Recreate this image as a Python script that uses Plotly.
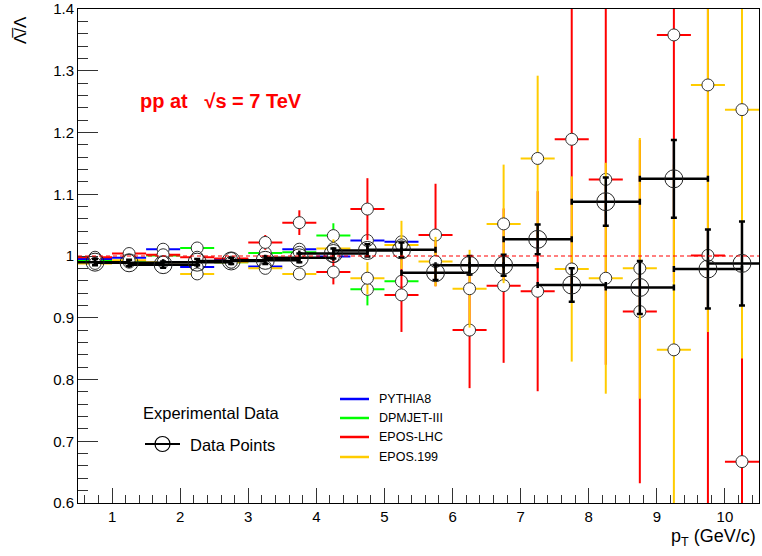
import plotly.graph_objects as go

# ---------------- data ----------------
pt = [0.75, 1.25, 1.75, 2.25, 2.75, 3.25, 3.75, 4.25, 4.75, 5.25,
      5.75, 6.25, 6.75, 7.25, 7.75, 8.25, 8.75, 9.25, 9.75, 10.25]
pt_low = pt[:10]

data_y = [0.990, 0.989, 0.986, 0.990, 0.992, 0.993, 0.997, 1.004, 1.009, 1.010,
          0.973, 0.985, 0.985, 1.027, 0.953, 1.088, 0.949, 1.125, 0.979, 0.988]
data_err = [0.005, 0.005, 0.005, 0.005, 0.005, 0.006, 0.007, 0.008, 0.010, 0.012,
            0.012, 0.015, 0.017, 0.024, 0.027, 0.039, 0.043, 0.063, 0.064, 0.068]
data_xerr = [0.5] * 20

pythia_y = [0.995, 0.997, 1.011, 0.982, 0.995, 0.983, 1.011, 0.999, 1.025, 1.023]
pythia_err = [0.003, 0.003, 0.004, 0.004, 0.004, 0.005, 0.005, 0.006, 0.006, 0.007]

dpmjet_y = [0.992, 0.990, 1.001, 1.013, 0.990, 1.005, 1.006, 1.033, 0.946, 0.959]
dpmjet_err = [0.003, 0.003, 0.004, 0.005, 0.005, 0.006, 0.008, 0.020, 0.026, 0.012]

eposlhc_y = [0.998, 1.004, 1.002, 0.998, 0.996, 1.022, 1.054, 0.974, 1.076, 0.937,
             1.034, 0.880, 0.952, 0.943, 1.189, 1.124, 0.910, 1.358, 1.001, 0.667]
eposlhc_err = [0.004, 0.005, 0.005, 0.006, 0.008, 0.012, 0.020, 0.020, 0.050, 0.060,
               0.083, 0.094, 0.125, 0.162, 0.250, 0.300, 0.278, 0.400, 0.450, 0.200]

epos199_y = [0.988, 0.993, 0.990, 0.971, 0.990, 0.980, 0.971, 1.012, 0.964, 1.018,
             0.991, 0.947, 1.052, 1.158, 0.979, 0.964, 0.980, 0.848, 1.277, 1.237]
epos199_err = [0.005, 0.005, 0.005, 0.006, 0.006, 0.008, 0.010, 0.015, 0.026, 0.039,
               0.040, 0.063, 0.096, 0.134, 0.150, 0.187, 0.211, 0.300, 0.400, 0.403]

model_xerr = 0.25

y_ticks = [0.6, 0.7, 0.8, 0.9, 1.0, 1.1, 1.2, 1.3, 1.4]
y_ticktext = ["0.6", "0.7", "0.8", "0.9", "1", "1.1", "1.2", "1.3", "1.4"]
x_ticks = [1, 2, 3, 4, 5, 6, 7, 8, 9, 10]

models = [
    ("PYTHIA8", pt_low, pythia_y, pythia_err, "#0000ff"),
    ("DPMJET-III", pt_low, dpmjet_y, dpmjet_err, "#00ff00"),
    ("EPOS-LHC", pt, eposlhc_y, eposlhc_err, "#ff0000"),
    ("EPOS.199", pt, epos199_y, epos199_err, "#ffcc00"),
]

FONT = "Liberation Sans, Arial, Helvetica, sans-serif"
W, H = 762, 556
L, R, T, B = 78, 3, 9, 53
PW, PH = W - L - R, H - T - B


def px(xp):
    return (xp - L) / PW


def py(yp):
    return (H - B - yp) / PH


fig = go.Figure()

for name, xs, ys, es, col in models:
    fig.add_trace(go.Scatter(
        x=xs, y=ys, mode="markers", name=name, showlegend=False,
        marker=dict(symbol="circle", size=12, color="white",
                    line=dict(color="#333333", width=1)),
        error_y=dict(type="data", array=es, color=col, thickness=2, width=0),
        error_x=dict(type="constant", value=model_xerr, color=col, thickness=2, width=0),
    ))

fig.add_trace(go.Scatter(
    x=pt, y=data_y, mode="markers", name="Data Points", showlegend=False,
    marker=dict(symbol="circle-open", size=18, color="#222222",
                line=dict(color="#222222", width=1)),
    error_y=dict(type="data", array=data_err, color="black", thickness=2.5, width=3),
    error_x=dict(type="data", array=data_xerr, color="black", thickness=2.5, width=3),
))

# reference line at unity
fig.add_shape(type="line", xref="x", yref="y", x0=0.5, x1=10.5, y0=1.0, y1=1.0,
              line=dict(color="#ff0000", width=1.2, dash="4px,3px"), layer="above")

ann = []
# title label
ann.append(dict(text="<b>pp at   √s = 7 TeV</b>", x=px(138), y=py(101), xref="paper", yref="paper",
                xanchor="left", yanchor="middle", showarrow=False,
                font=dict(family=FONT, size=20, color="#ff0000")))
# axis titles
ann.append(dict(text="Λ̅/Λ", x=px(20), y=py(30), xref="paper", yref="paper",
                xanchor="center", yanchor="middle", textangle=-90, showarrow=False,
                font=dict(family=FONT, size=17, color="black")))
ann.append(dict(text="p<sub>T</sub> (GeV/c)", x=px(758), y=py(537), xref="paper", yref="paper",
                xanchor="right", yanchor="middle", showarrow=False,
                font=dict(family=FONT, size=18, color="black")))
# legend 1
ann.append(dict(text="Experimental Data", x=px(141), y=py(413), xref="paper", yref="paper",
                xanchor="left", yanchor="middle", showarrow=False,
                font=dict(family=FONT, size=16.5, color="black")))
ann.append(dict(text="Data Points", x=px(188), y=py(445), xref="paper", yref="paper",
                xanchor="left", yanchor="middle", showarrow=False,
                font=dict(family=FONT, size=16.5, color="black")))
fig.add_shape(type="line", xref="paper", yref="paper", x0=px(145), x1=px(180),
              y0=py(444), y1=py(444), line=dict(color="black", width=2))
fig.add_shape(type="circle", xref="paper", yref="paper", x0=px(155), x1=px(170),
              y0=py(451.5), y1=py(436.5), line=dict(color="black", width=1.2))
# legend 2
leg_y = [399, 418, 437, 457]
for (name, _, _, _, col), ly in zip(models, leg_y):
    fig.add_shape(type="line", xref="paper", yref="paper", x0=px(340), x1=px(369),
                  y0=py(ly), y1=py(ly), line=dict(color=col, width=2.5))
    ann.append(dict(text=name, x=px(377), y=py(ly), xref="paper", yref="paper",
                    xanchor="left", yanchor="middle", showarrow=False,
                    font=dict(family=FONT, size=12.5, color="black")))

fig.update_layout(
    width=W, height=H,
    margin=dict(l=L, r=R, t=T, b=B, pad=0),
    paper_bgcolor="white", plot_bgcolor="white",
    showlegend=False,
    annotations=ann,
    xaxis=dict(range=[0.5, 10.5], tickvals=x_ticks, ticks="inside", ticklen=15,
               tickwidth=1, tickcolor="#333333", showline=True, linecolor="black",
               linewidth=1, mirror=True, showgrid=False, zeroline=False, automargin=False,
               tickfont=dict(family=FONT, size=15, color="black"),
               minor=dict(dtick=0.2, ticks="inside", ticklen=8, tickcolor="#333333", showgrid=False)),
    yaxis=dict(range=[0.6, 1.4], tickvals=y_ticks, ticktext=y_ticktext, ticks="inside",
               ticklen=20, tickwidth=1, tickcolor="#333333", showline=True, linecolor="black",
               linewidth=1, mirror=True, showgrid=False, zeroline=False, automargin=False,
               tickfont=dict(family=FONT, size=15, color="black"),
               minor=dict(dtick=0.02, ticks="inside", ticklen=10, tickcolor="#333333", showgrid=False)),
)

fig.write_html("out.html")
